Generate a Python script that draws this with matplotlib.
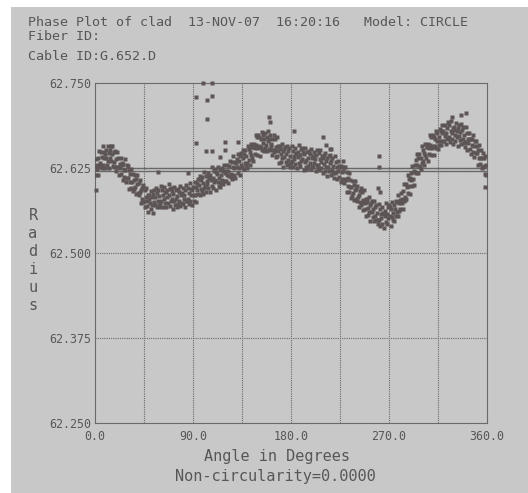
import matplotlib
matplotlib.use("Agg")
import matplotlib.pyplot as plt
import numpy as np
from matplotlib.patches import Rectangle

# header text
title_line = "Phase Plot of clad  13-NOV-07  16:20:16   Model: CIRCLE"
fiber_line = "Fiber ID:"
cable_line = "Cable ID:G.652.D"
x_label = "Angle in Degrees"
note = "Non-circularity=0.0000"

# axis ticks
x_ticks = [0.0, 90.0, 180.0, 270.0, 360.0]
y_ticks = [62.250, 62.375, 62.500, 62.625, 62.750]

# fitted circle radius and the reference line
fit_radius = 62.620
ref_radius = 62.625

radius = [
    62.628, 62.614, 62.638, 62.624, 62.630, 62.615, 62.640, 62.627, 62.650, 62.628,  # 0
    62.632, 62.649, 62.625, 62.641, 62.657, 62.630, 62.640, 62.648, 62.625, 62.646,
    62.651, 62.639, 62.630, 62.657, 62.636, 62.647, 62.625, 62.652, 62.640, 62.657,
    62.635, 62.646, 62.658, 62.628, 62.648, 62.634, 62.650, 62.627, 62.638, 62.620,
    62.626, 62.649, 62.626, 62.640, 62.615, 62.631, 62.625, 62.640, 62.616, 62.632,  # 20
    62.630, 62.608, 62.631, 62.622, 62.612, 62.638, 62.622, 62.605, 62.629, 62.611,
    62.628, 62.611, 62.622, 62.594, 62.616, 62.604, 62.624, 62.596, 62.605, 62.616,
    62.591, 62.607, 62.594, 62.615, 62.597, 62.609, 62.587, 62.615, 62.601, 62.588,
    62.603, 62.585, 62.607, 62.589, 62.593, 62.574, 62.596, 62.580, 62.600, 62.575,  # 40
    62.576, 62.592, 62.567, 62.582, 62.596, 62.569, 62.577, 62.585, 62.560, 62.580,
    62.585, 62.573, 62.564, 62.591, 62.571, 62.582, 62.559, 62.587, 62.575, 62.592,
    62.570, 62.582, 62.596, 62.567, 62.588, 62.576, 62.593, 62.571, 62.584, 62.567,
    62.574, 62.598, 62.577, 62.592, 62.568, 62.585, 62.580, 62.597, 62.574, 62.590,  # 60
    62.589, 62.568, 62.592, 62.583, 62.574, 62.601, 62.586, 62.569, 62.594, 62.577,
    62.595, 62.579, 62.591, 62.564, 62.587, 62.576, 62.597, 62.570, 62.580, 62.592,
    62.567, 62.584, 62.572, 62.594, 62.577, 62.590, 62.569, 62.598, 62.585, 62.573,
    62.588, 62.572, 62.595, 62.580, 62.585, 62.568, 62.592, 62.577, 62.600, 62.576,  # 80
    62.579, 62.596, 62.572, 62.588, 62.603, 62.577, 62.586, 62.594, 62.571, 62.592,
    62.597, 62.586, 62.577, 62.605, 62.585, 62.597, 62.575, 62.603, 62.592, 62.609,
    62.587, 62.600, 62.613, 62.585, 62.607, 62.594, 62.612, 62.591, 62.603, 62.587,
    62.595, 62.619, 62.598, 62.613, 62.589, 62.606, 62.602, 62.618, 62.595, 62.612,  # 100
    62.611, 62.590, 62.615, 62.607, 62.599, 62.626, 62.611, 62.596, 62.621, 62.605,
    62.623, 62.607, 62.619, 62.593, 62.616, 62.605, 62.626, 62.599, 62.610, 62.622,
    62.597, 62.614, 62.603, 62.625, 62.608, 62.621, 62.601, 62.630, 62.617, 62.606,
    62.621, 62.606, 62.630, 62.614, 62.620, 62.603, 62.628, 62.613, 62.636, 62.612,  # 120
    62.616, 62.634, 62.609, 62.626, 62.642, 62.615, 62.625, 62.634, 62.610, 62.632,
    62.638, 62.627, 62.617, 62.645, 62.625, 62.636, 62.614, 62.642, 62.630, 62.647,
    62.626, 62.639, 62.652, 62.624, 62.645, 62.633, 62.651, 62.629, 62.642, 62.625,
    62.633, 62.658, 62.637, 62.653, 62.630, 62.648, 62.644, 62.661, 62.639, 62.656,  # 140
    62.656, 62.636, 62.661, 62.654, 62.646, 62.673, 62.659, 62.644, 62.670, 62.654,
    62.673, 62.657, 62.670, 62.643, 62.667, 62.656, 62.678, 62.651, 62.662, 62.674,
    62.650, 62.667, 62.654, 62.676, 62.659, 62.671, 62.650, 62.679, 62.665, 62.653,
    62.668, 62.651, 62.674, 62.657, 62.661, 62.644, 62.667, 62.652, 62.673, 62.649,  # 160
    62.651, 62.667, 62.641, 62.656, 62.670, 62.642, 62.650, 62.657, 62.632, 62.653,
    62.657, 62.645, 62.634, 62.661, 62.639, 62.650, 62.627, 62.653, 62.641, 62.656,
    62.634, 62.646, 62.658, 62.629, 62.650, 62.637, 62.654, 62.631, 62.643, 62.626,
    62.633, 62.657, 62.635, 62.650, 62.626, 62.643, 62.638, 62.654, 62.631, 62.647,  # 180
    62.646, 62.625, 62.649, 62.641, 62.632, 62.659, 62.644, 62.628, 62.653, 62.636,
    62.654, 62.638, 62.649, 62.622, 62.645, 62.634, 62.654, 62.627, 62.637, 62.648,
    62.623, 62.640, 62.628, 62.650, 62.633, 62.645, 62.624, 62.653, 62.640, 62.628,
    62.643, 62.627, 62.649, 62.633, 62.638, 62.621, 62.644, 62.629, 62.651, 62.627,  # 200
    62.630, 62.647, 62.622, 62.638, 62.652, 62.625, 62.634, 62.642, 62.618, 62.639,
    62.644, 62.631, 62.621, 62.647, 62.626, 62.636, 62.613, 62.639, 62.627, 62.642,
    62.620, 62.632, 62.644, 62.615, 62.636, 62.622, 62.639, 62.617, 62.628, 62.611,
    62.618, 62.642, 62.619, 62.634, 62.609, 62.626, 62.620, 62.636, 62.612, 62.628,  # 220
    62.627, 62.605, 62.628, 62.619, 62.609, 62.635, 62.620, 62.603, 62.627, 62.609,
    62.626, 62.608, 62.619, 62.590, 62.611, 62.598, 62.618, 62.589, 62.597, 62.608,
    62.581, 62.597, 62.584, 62.606, 62.588, 62.600, 62.578, 62.606, 62.593, 62.580,
    62.594, 62.577, 62.599, 62.582, 62.586, 62.568, 62.591, 62.575, 62.596, 62.571,  # 240
    62.573, 62.589, 62.563, 62.578, 62.592, 62.564, 62.573, 62.580, 62.555, 62.575,
    62.579, 62.566, 62.556, 62.582, 62.560, 62.571, 62.547, 62.573, 62.561, 62.576,
    62.553, 62.564, 62.577, 62.547, 62.568, 62.554, 62.570, 62.548, 62.559, 62.542,
    62.548, 62.572, 62.549, 62.564, 62.540, 62.557, 62.551, 62.567, 62.543, 62.559,  # 260
    62.558, 62.537, 62.562, 62.554, 62.546, 62.573, 62.558, 62.543, 62.568, 62.552,
    62.570, 62.554, 62.567, 62.540, 62.564, 62.553, 62.575, 62.548, 62.559, 62.571,
    62.547, 62.565, 62.554, 62.577, 62.561, 62.575, 62.555, 62.585, 62.573, 62.562,
    62.578, 62.564, 62.588, 62.574, 62.580, 62.565, 62.591, 62.577, 62.601, 62.578,  # 280
    62.583, 62.602, 62.579, 62.597, 62.614, 62.588, 62.599, 62.609, 62.587, 62.610,
    62.617, 62.607, 62.599, 62.628, 62.609, 62.621, 62.600, 62.629, 62.619, 62.637,
    62.617, 62.630, 62.645, 62.617, 62.639, 62.628, 62.646, 62.626, 62.639, 62.624,
    62.632, 62.657, 62.636, 62.652, 62.629, 62.647, 62.644, 62.661, 62.639, 62.656,  # 300
    62.656, 62.636, 62.661, 62.654, 62.646, 62.673, 62.659, 62.644, 62.670, 62.654,
    62.673, 62.658, 62.671, 62.644, 62.668, 62.658, 62.680, 62.654, 62.664, 62.677,
    62.653, 62.671, 62.659, 62.682, 62.665, 62.679, 62.659, 62.688, 62.676, 62.664,
    62.680, 62.664, 62.688, 62.672, 62.677, 62.660, 62.684, 62.669, 62.692, 62.668,  # 320
    62.671, 62.688, 62.663, 62.679, 62.694, 62.667, 62.676, 62.684, 62.660, 62.681,
    62.686, 62.674, 62.664, 62.691, 62.670, 62.680, 62.657, 62.684, 62.672, 62.688,
    62.666, 62.678, 62.690, 62.661, 62.681, 62.668, 62.685, 62.662, 62.674, 62.656,
    62.663, 62.686, 62.663, 62.677, 62.652, 62.668, 62.662, 62.677, 62.653, 62.668,  # 340
    62.667, 62.645, 62.668, 62.659, 62.649, 62.674, 62.658, 62.641, 62.665, 62.647,
    62.664, 62.647, 62.658, 62.630, 62.652, 62.639, 62.659, 62.631, 62.640, 62.651,
    62.625, 62.640, 62.626, 62.647, 62.628, 62.639, 62.616, 62.643, 62.629, 62.615,
]
angle = np.arange(0, 360, 0.5)

# stray points away from the main band
stray_angle = [99.2, 107.4, 92.7, 102.8, 107.4, 102.8, 92.7, 101.9, 107.4, 119.4,
               119.4, 114.8, 131.3, 209.4, 212.1, 215.8, 216.7, 260.8, 260.8, 259.9,
               261.7, 57.9, 85.4, 0.9, 358.0, 159.8, 161.0, 182.7, 340.7, 336.0, 327.8]
stray_radius = [62.750, 62.750, 62.729, 62.725, 62.731, 62.697, 62.662, 62.650, 62.650, 62.663,
                62.651, 62.641, 62.663, 62.671, 62.659, 62.653, 62.653, 62.643, 62.626, 62.596,
                62.590, 62.619, 62.618, 62.593, 62.597, 62.700, 62.693, 62.679, 62.706, 62.703,
                62.700]

panel = "#c8c8c8"
ink = "#575757"
dot = "#5d5555"
mono = "DejaVu Sans Mono"

fig = plt.figure(figsize=(5.28, 4.93), dpi=100, facecolor="white")
fig.patches.append(Rectangle((11 / 528, 0), 1, 1 - 7 / 493, transform=fig.transFigure,
                             facecolor=panel, edgecolor="none", zorder=-10))

ax = fig.add_axes([95 / 528, 1 - 423 / 493, 392 / 528, 340 / 493])
ax.set_facecolor(panel)
ax.set_xlim(0, 360)
ax.set_ylim(62.250, 62.750)

grid_kw = dict(color="#6a6a6a", lw=0.8, linestyle=(0, (1, 1)), zorder=1)
for gx in np.arange(45, 360, 45):
    ax.axvline(gx, **grid_kw)
for gy in y_ticks[1:-1]:
    ax.axhline(gy, **grid_kw)
for s in ax.spines.values():
    s.set_color("#6a6a6a")
    s.set_linewidth(0.8)
    s.set_linestyle((0, (1, 1)))

ax.axhline(ref_radius, color="#686868", lw=1.0, zorder=2)
ax.axhline(fit_radius, color="#686868", lw=1.0, zorder=2)

ax.plot(angle, radius, "s", ms=2.2, color=dot, mec="none", zorder=3)
ax.plot(stray_angle, stray_radius, "s", ms=2.2, color=dot, mec="none", zorder=3,
        clip_on=False)

ax.set_xticks(x_ticks)
ax.set_xticklabels([f"{t:.1f}" for t in x_ticks], family=mono, fontsize=8.4, color=ink)
ax.set_yticks(y_ticks)
ax.set_yticklabels([f"{t:.3f}" for t in y_ticks], family=mono, fontsize=8.4, color=ink)
ax.tick_params(length=0, pad=3)
ax.tick_params(axis="x", pad=5)

fig.text(28 / 528, 1 - 22 / 493, title_line, family=mono, fontsize=9.6, color=ink,
         va="center", ha="left")
fig.text(28 / 528, 1 - 36 / 493, fiber_line, family=mono, fontsize=9.6, color=ink,
         va="center", ha="left")
fig.text(28 / 528, 1 - 57 / 493, cable_line, family=mono, fontsize=9.6, color=ink,
         va="center", ha="left")

for i, ch in enumerate("Radius"):
    fig.text(33 / 528, 1 - (215 + i * 18) / 493, ch, family=mono, fontsize=11,
             color=ink, va="center", ha="center")

fig.text(0.5 * (203 + 350) / 528, 1 - 457 / 493, x_label, family=mono, fontsize=11,
         color=ink, va="center", ha="center")
fig.text(0.5 * (173 + 378) / 528, 1 - 477 / 493, note, family=mono, fontsize=11,
         color=ink, va="center", ha="center")

fig.savefig("out.png", dpi=100, facecolor=fig.get_facecolor())
